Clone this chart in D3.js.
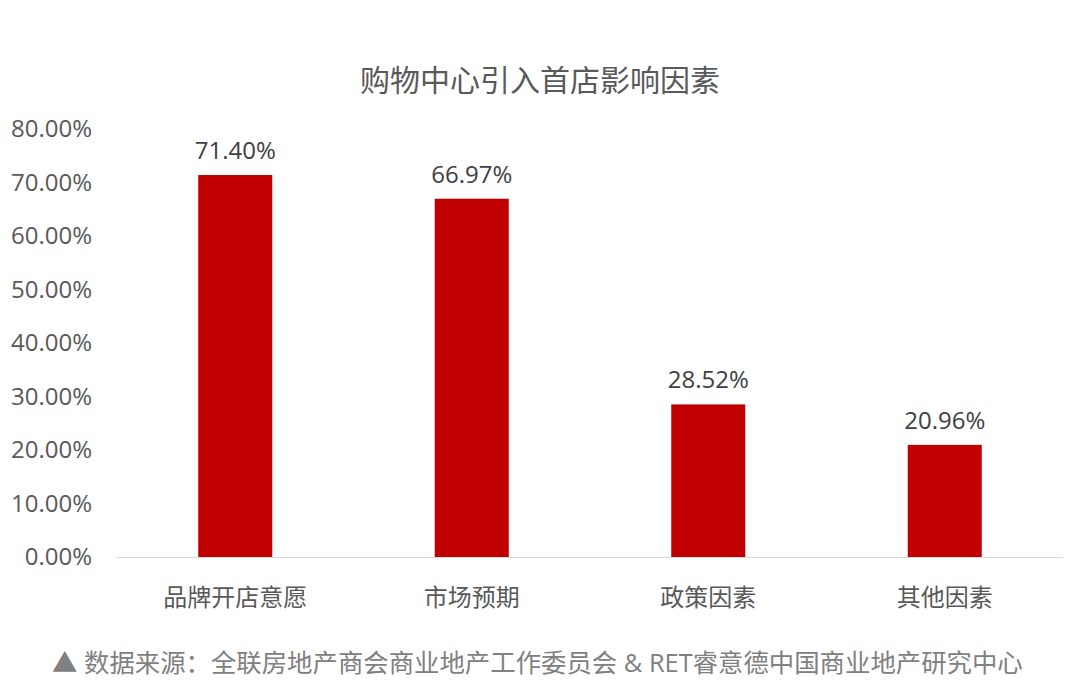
<!DOCTYPE html>
<html><head><meta charset="utf-8">
<script src="https://cdn.jsdelivr.net/npm/d3@7"></script>
<style>
body{margin:0;background:#fff;}
text{font-family:"Open Sans","Noto Sans CJK SC",sans-serif;}
</style></head>
<body><svg id="c" width="1080" height="680"></svg>
<script>
const categories = ["品牌开店意愿","市场预期","政策因素","其他因素"];
const values = [71.40, 66.97, 28.52, 20.96];
const yTicks = [0,10,20,30,40,50,60,70,80];
const title = "购物中心引入首店影响因素";
const source = "▲ 数据来源：全联房地产商会商业地产工作委员会 & RET睿意德中国商业地产研究中心";

const svg = d3.select("#c");
const m = {left:117, right:1063, top:129, bottom:557};
const x = d3.scaleBand().domain(categories).range([m.left, m.right]).paddingInner(0.687).paddingOuter(0.3435);
const y = d3.scaleLinear().domain([0,80]).range([m.bottom, m.top]);

svg.append("text").attr("x",540).attr("y",91).attr("text-anchor","middle")
  .attr("font-size",30).attr("fill","#595959").attr("font-family",'"Noto Sans CJK SC",sans-serif').text(title);

const yAxis = svg.append("g").attr("transform",`translate(${m.left},0)`)
  .call(d3.axisLeft(y).tickValues(yTicks).tickFormat(d=>d.toFixed(2)+"%").tickSize(0).tickPadding(25));
yAxis.select(".domain").remove();
yAxis.selectAll("text").attr("font-size",24).attr("fill","#595959").attr("font-family",'"Open Sans","Noto Sans CJK SC",sans-serif');

svg.selectAll("rect.bar").data(values).join("rect").attr("class","bar")
  .attr("x",(d,i)=>x(categories[i])).attr("width",x.bandwidth())
  .attr("y",d=>y(d)).attr("height",d=>y(0)-y(d)).attr("fill","#C00000");

svg.append("line").attr("x1",m.left).attr("x2",m.right).attr("y1",y(0)+0.5).attr("y2",y(0)+0.5)
  .attr("stroke","#d9d9d9").attr("stroke-width",1);

svg.selectAll("text.val").data(values).join("text").attr("class","val")
  .attr("x",(d,i)=>x(categories[i])+x.bandwidth()/2).attr("y",d=>y(d)-16)
  .attr("text-anchor","middle").attr("font-size",24).attr("fill","#404040")
  .text(d=>d.toFixed(2)+"%");

const xAxis = svg.append("g").attr("transform",`translate(0,${m.bottom})`)
  .call(d3.axisBottom(x).tickSize(0).tickPadding(32));
xAxis.select(".domain").remove();
xAxis.selectAll("text").attr("font-size",24).attr("fill","#595959").attr("font-family",'"Noto Sans CJK SC",sans-serif');

svg.append("text").attr("x",52).attr("y",672).attr("font-size",25.4).attr("fill","#808080")
  .attr("font-family",'"Noto Sans CJK SC",sans-serif').text(source);
</script></body></html>
